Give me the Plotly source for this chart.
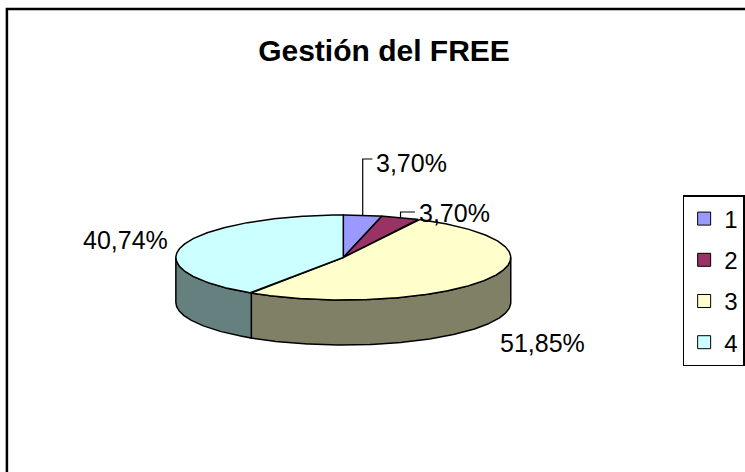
import numpy as np
import plotly.graph_objects as go

# ---------------- data ----------------
categories = ["1", "2", "3", "4"]
percentages = [3.70, 3.70, 51.85, 40.74]
title_text = "Gestión del FREE"

# ---------------- style / layout constants ----------------
top_colors = ["#9999FF", "#993366", "#FFFFCC", "#CCFFFF"]
side_colors = ["#4D4D80", "#4D1A33", "#808066", "#668080"]
FONT = "Liberation Sans, Arial, sans-serif"
W, H = 745, 472
CX, CY, RX, RY, DEPTH = 347.5, 257.5, 169.5, 42.5, 45.0
# label positions (x, y, anchor) and leader elbow heights (None = no leader)
LABEL_POS = [(379, 163, "left"), (422, 213, "left"), (549, 343, "center"), (127, 240, "center")]
LEADER_Y = [159, 212, None, None]

vals = np.array(percentages, dtype=float)
frac = vals / vals.sum()
ends = np.cumsum(frac) * 360.0
starts = ends - frac * 360.0


def ell(theta_deg, dy=0.0):
    t = np.radians(theta_deg)
    return CX + RX * np.sin(t), CY - RY * np.cos(t) + dy


fig = go.Figure()

# side walls (front half only: 90..270 degrees clockwise from top)
for i in range(len(vals)):
    a, b = max(starts[i], 90.0), min(ends[i], 270.0)
    if b <= a:
        continue
    th = np.linspace(a, b, int((b - a) * 2) + 2)
    xt, yt = ell(th)
    xb, yb = ell(th[::-1], DEPTH)
    x = np.concatenate([xt, xb, xt[:1]])
    y = np.concatenate([yt, yb, yt[:1]])
    fig.add_trace(go.Scatter(x=x, y=y, mode="lines", fill="toself",
                             fillcolor=side_colors[i],
                             line=dict(color="black", width=1.5),
                             showlegend=False, hoverinfo="skip"))

# top faces
for i in range(len(vals)):
    th = np.linspace(starts[i], ends[i], int((ends[i] - starts[i]) * 2) + 2)
    xa, ya = ell(th)
    x = np.concatenate([[CX], xa, [CX]])
    y = np.concatenate([[CY], ya, [CY]])
    fig.add_trace(go.Scatter(x=x, y=y, mode="lines", fill="toself",
                             fillcolor=top_colors[i],
                             line=dict(color="black", width=1.5),
                             name=categories[i], showlegend=False,
                             hoverinfo="text",
                             text=f"{categories[i]}: {percentages[i]:.2f}%".replace(".", ",")))

# leader lines
for i in range(len(vals)):
    if LEADER_Y[i] is None:
        continue
    mx, my = ell((starts[i] + ends[i]) / 2.0)
    lx = LABEL_POS[i][0] - 2
    fig.add_trace(go.Scatter(x=[mx, mx, lx], y=[my, LEADER_Y[i], LEADER_Y[i]],
                             mode="lines", line=dict(color="black", width=1.2),
                             showlegend=False, hoverinfo="skip"))

# legend entries
for i in range(len(vals)):
    fig.add_trace(go.Scatter(x=[None], y=[None], mode="markers", name=categories[i],
                             legendgroup=categories[i],
                             marker=dict(symbol="square", size=13, color=top_colors[i],
                                         line=dict(color="black", width=1))))

# data labels
annotations = []
for i in range(len(vals)):
    lx, ly, anc = LABEL_POS[i]
    annotations.append(dict(x=lx, y=ly, xref="x", yref="y", showarrow=False,
                            xanchor=anc, yanchor="middle",
                            text=f"{percentages[i]:.2f}%".replace(".", ","),
                            font=dict(family=FONT, size=25, color="black")))

fig.update_layout(
    width=W, height=H,
    margin=dict(l=0, r=0, t=0, b=0),
    paper_bgcolor="white", plot_bgcolor="white",
    xaxis=dict(range=[0, W], visible=False, fixedrange=True),
    yaxis=dict(range=[H, 0], visible=False, fixedrange=True),
    title=dict(text=f"<b>{title_text}</b>", x=384 / W, y=1 - 50 / H,
               xanchor="center", yanchor="middle",
               font=dict(family=FONT, size=30, color="black")),
    legend=dict(x=691 / W, y=1 - 195 / H, xanchor="left", yanchor="top",
                bordercolor="black", borderwidth=1.5, bgcolor="white",
                font=dict(family=FONT, size=24, color="black"),
                traceorder="grouped", tracegroupgap=7),
    annotations=annotations,
    shapes=[dict(type="rect", xref="paper", yref="paper",
                 x0=7 / W, x1=1.02, y0=-0.02, y1=1 - 9 / H,
                 line=dict(color="black", width=2.5), fillcolor="rgba(0,0,0,0)",
                 layer="below")],
    showlegend=True,
)

fig.write_html("out.html", config={"displayModeBar": False},
               post_script="document.body.style.margin='0';document.body.style.overflow='hidden';")
